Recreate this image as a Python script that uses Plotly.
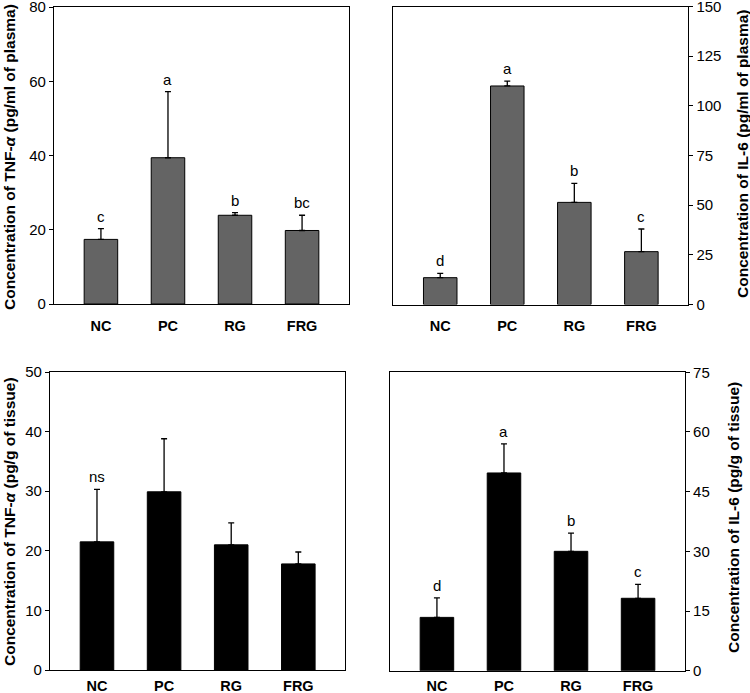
import plotly.graph_objects as go

groups = ["NC", "PC", "RG", "FRG"]

tnf_plasma = [17.4, 39.4, 23.9, 19.8]
tnf_plasma_err = [2.9, 17.8, 0.7, 4.1]
tnf_plasma_letters = ["c", "a", "b", "bc"]

il6_plasma = [13.5, 110.0, 51.4, 26.6]
il6_plasma_err = [2.2, 2.4, 9.6, 11.4]
il6_plasma_letters = ["d", "a", "b", "c"]

tnf_tissue = [21.5, 29.9, 21.0, 17.8]
tnf_tissue_err = [8.8, 8.9, 3.7, 2.0]
tnf_tissue_letters = ["ns", "", "", ""]

il6_tissue = [13.4, 49.7, 30.0, 18.2]
il6_tissue_err = [4.9, 7.3, 4.6, 3.5]
il6_tissue_letters = ["d", "a", "b", "c"]

FONT = "Arial, Liberation Sans, sans-serif"

panels = [
    dict(vals=tnf_plasma, err=tnf_plasma_err, letters=tnf_plasma_letters, color="#646464",
         ymax=80, dtick=20, side="left",
         title="Concentration of TNF-<i>α</i> (pg/ml of plasma)",
         xd=[54/750, 349/750], yd=[1-304/693, 1-7/693],
         tx=9/750, ty=1-157/693, standoff=8),
    dict(vals=il6_plasma, err=il6_plasma_err, letters=il6_plasma_letters, color="#646464",
         ymax=150, dtick=25, side="right",
         title="Concentration of IL-6 (pg/ml of plasma)",
         xd=[393.3/750, 688.3/750], yd=[1-304.5/693, 1-6.5/693],
         tx=742/750, ty=1-154/693, standoff=8),
    dict(vals=tnf_tissue, err=tnf_tissue_err, letters=tnf_tissue_letters, color="#000000",
         ymax=50, dtick=10, side="left",
         title="Concentration of TNF-<i>α</i> (pg/g of tissue)",
         xd=[50/750, 345.3/750], yd=[1-670/693, 1-372/693],
         tx=9/750, ty=1-522/693, standoff=2),
    dict(vals=il6_tissue, err=il6_tissue_err, letters=il6_tissue_letters, color="#000000",
         ymax=75, dtick=15, side="right",
         title="Concentration of IL-6 (pg/g of tissue)",
         xd=[390/750, 685/750], yd=[1-670.7/693, 1-372.3/693],
         tx=733/750, ty=1-518/693, standoff=2),
]

fig = go.Figure()
annotations = []
layout = {}

for i, p in enumerate(panels):
    n = "" if i == 0 else str(i + 1)
    xa, ya = "x" + n, "y" + n
    fig.add_trace(go.Bar(
        x=groups, y=p["vals"], xaxis=xa, yaxis=ya, width=0.5,
        marker=dict(color=p["color"], line=dict(color="black", width=1)),
        error_y=dict(type="data", symmetric=False, array=p["err"],
                     arrayminus=[0] * len(p["err"]), color="black",
                     thickness=1.3, width=3),
        showlegend=False, hoverinfo="skip",
    ))
    layout["xaxis" + n] = dict(
        domain=p["xd"], anchor=ya, range=[-0.7, 3.7], automargin=False,
        showline=True, mirror=True, linecolor="black", linewidth=1.2,
        ticks="", showgrid=False, zeroline=False, ticklabeloverflow="allow",
        tickfont=dict(family=FONT, size=14.5, color="black", weight="bold"),
        ticklabelstandoff=p["standoff"],
    )
    layout["yaxis" + n] = dict(
        domain=p["yd"], anchor=xa, range=[0, p["ymax"]], dtick=p["dtick"],
        side=p["side"], automargin=False, ticklabeloverflow="allow",
        showline=True, mirror=True, linecolor="black", linewidth=1.2,
        ticks="outside", ticklen=4, tickwidth=1, tickcolor="black",
        showgrid=False, zeroline=False,
        tickfont=dict(family=FONT, size=15, color="black"),
    )
    for g, v, e, t in zip(groups, p["vals"], p["err"], p["letters"]):
        if t:
            annotations.append(dict(
                x=g, y=v + e, xref=xa, yref=ya, text=t, showarrow=False,
                yanchor="bottom", yshift=2,
                font=dict(family=FONT, size=15, color="black"),
            ))
    annotations.append(dict(
        x=p["tx"], y=p["ty"], xref="paper", yref="paper", text=p["title"],
        textangle=-90, showarrow=False, xanchor="center", yanchor="middle",
        font=dict(family=FONT, size=15.5, color="black", weight="bold"),
    ))

fig.update_layout(
    **layout,
    annotations=annotations,
    width=750, height=693,
    margin=dict(l=0, r=0, t=0, b=0, autoexpand=False),
    paper_bgcolor="white", plot_bgcolor="white",
    bargap=0.5,
)

fig.write_html(
    "out.html",
    config={"displayModeBar": False},
    post_script="document.body.style.margin='0';document.body.style.overflow='hidden';",
)
